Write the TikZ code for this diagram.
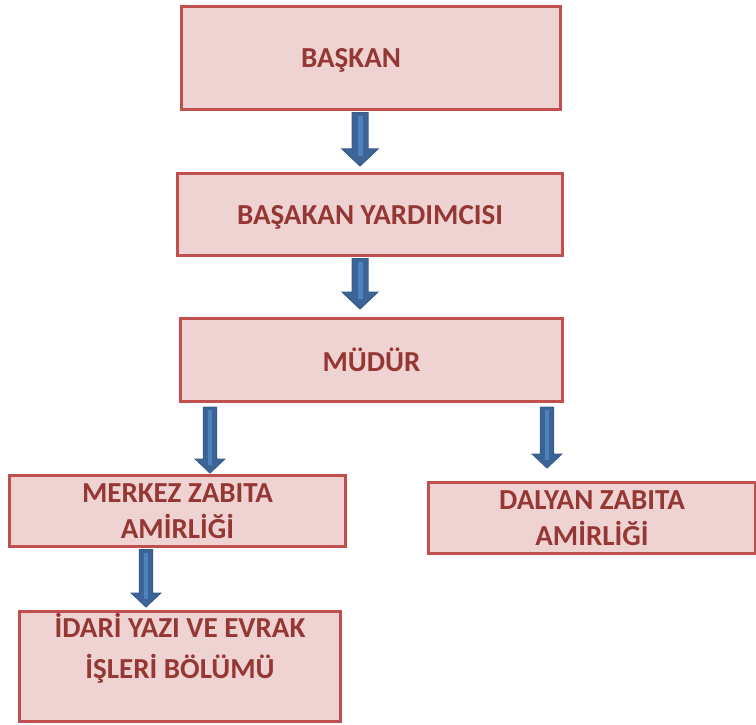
\documentclass[tikz,border=0pt]{standalone}
\usepackage{fontspec}
\setmainfont{Carlito}
\usetikzlibrary{calc}
\definecolor{boxfill}{HTML}{EFD3D2}
\definecolor{boxline}{HTML}{C0504D}
\definecolor{boxtext}{HTML}{953735}
\definecolor{arrowfill}{HTML}{3C6496}
\definecolor{arrowline}{HTML}{385D8A}
\definecolor{arrowlight}{HTML}{4F81BD}
\newcommand\blockarrow[3][1]{%
  \filldraw[fill=arrowfill,draw=arrowline,line width=1bp] let \p1=#2, \p2=#3 in
    (\x1-8*#1bp,\y1) -- (\x1-8*#1bp,\y2+17*#1bp) -- (\x1-18*#1bp,\y2+17*#1bp) -- (\x1,\y2)
    -- (\x1+18*#1bp,\y2+17*#1bp) -- (\x1+8*#1bp,\y2+17*#1bp) -- (\x1+8*#1bp,\y1) -- cycle;
  \draw[arrowlight,line width=5*#1bp] let \p1=#2, \p2=#3 in
    (\x1,\y1-3bp) -- (\x1,\y2+10*#1bp);}

\begin{document}
\begin{tikzpicture}[x=1bp,y=-1bp,
    box/.style={draw=boxline,fill=boxfill,line width=3bp,text=boxtext,
      font=\fontsize{29bp}{36bp}\selectfont\bfseries,align=center,inner sep=0pt,text depth=0pt}]
        \useasboundingbox (0,0) rectangle (756,725);
        \node[box,minimum width=379bp,minimum height=103bp] (baskan) at (371,58) {BAŞKAN\hspace*{40bp}};
        \node[box,minimum width=385bp,minimum height=82bp] (yard) at (370,214.5) {BAŞAKAN YARDIMCISI};
        \node[box,minimum width=382bp,minimum height=83bp] (mudur) at (371.5,360) {MÜDÜR};
        \node[box,minimum width=336bp,minimum height=71bp] (merkez) at (177.5,511) {MERKEZ ZABITA\\AMİRLİĞİ};
        \node[box,minimum width=327bp,minimum height=71bp] (dalyan) at (592,518) {DALYAN ZABITA\\AMİRLİĞİ};
        \node[box,minimum width=321bp,minimum height=110bp,
          font=\fontsize{29bp}{41bp}\selectfont\bfseries] (idari) at (180,666.5) {İDARİ YAZI VE EVRAK\\İŞLERİ BÖLÜMÜ\\~};
        \blockarrow{($(baskan.south)+(-11,1.5)$)}{([yshift=6bp]yard.north)}
        \blockarrow{($(yard.south)+(-10,1.5)$)}{([yshift=8bp]mudur.north)}
        \blockarrow[0.82]{($(mudur.south)+(-161.5,4)$)}{([yshift=1bp]merkez.north)}
        \blockarrow[0.82]{($(mudur.south)+(175.5,4)$)}{([yshift=13bp]dalyan.north)}
        \blockarrow[0.82]{($(merkez.south)+(-31.5,1.5)$)}{([yshift=3bp]idari.north)}
      \end{tikzpicture}
\end{document}
